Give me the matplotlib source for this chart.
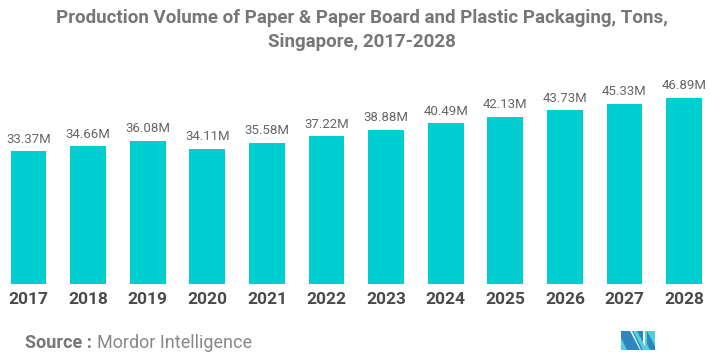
import matplotlib
matplotlib.use("Agg")
import matplotlib.pyplot as plt
from matplotlib.patches import Polygon

years = ["2017", "2018", "2019", "2020", "2021", "2022", "2023", "2024", "2025", "2026", "2027", "2028"]
values = [33.37, 34.66, 36.08, 34.11, 35.58, 37.22, 38.88, 40.49, 42.13, 43.73, 45.33, 46.89]
labels = [f"{v:.2f}M" for v in values]

plt.rcParams['font.family'] = ['Roboto', 'DejaVu Sans']

fig = plt.figure(figsize=(7.24, 3.64), dpi=100)
ax = fig.add_axes([0, 1 - 284/364, 1, 224/364])
x = list(range(len(years)))
bars = ax.bar(x, values, width=0.6, color="#00CED1")
for xi, v, lab in zip(x, values, labels):
    ax.annotate(lab, (xi, v), xytext=(0, 4), textcoords="offset points",
                ha="center", va="bottom", fontsize=9.5, color="#666666")
ax.set_xlim(-0.48, 11.67)
ax.set_ylim(0, 56.4)
ax.set_xticks(x)
ax.set_xticklabels(years, fontsize=12.5, fontweight="bold", color="#4a4a4a")
ax.tick_params(axis="x", length=0, pad=6)
ax.set_yticks([])
for s in ax.spines.values():
    s.set_visible(False)

fig.text(0.5, 1 - 18/364, "Production Volume of Paper & Paper Board and Plastic Packaging, Tons,",
         ha="center", va="center", fontsize=13.5, fontweight="bold", color="#777777")
fig.text(0.5, 1 - 42/364, "Singapore, 2017-2028",
         ha="center", va="center", fontsize=13.5, fontweight="bold", color="#777777")

t = fig.text(25/724, 1 - 343/364, "Source :", ha="left", va="center",
             fontsize=13, fontweight="bold", color="#777777")
fig.canvas.draw()
bb = t.get_window_extent()
fig.text((bb.x1 + 5)/724, 1 - 343/364, "Mordor Intelligence", ha="left", va="center",
         fontsize=13, color="#888888")

# logo
def P(pts, c):
    fig.patches.append(Polygon([(px/724, 1 - py/364) for px, py in pts], closed=True,
                               transform=fig.transFigure, color=c, lw=0))
P([(621, 331), (630, 331), (640, 350), (621, 350)], "#2E86C1")
P([(621, 338), (627, 350), (621, 350)], "#4FD1D9")
P([(632, 331), (643, 331), (643, 350), (641, 350)], "#2E86C1")
P([(637, 331), (647, 350), (643, 350), (633, 331)], "#4FD1D9")
P([(645, 331), (655, 331), (655, 350), (645, 350)], "#4FD1D9")
P([(647, 331), (655, 346), (655, 350), (650, 350), (647, 344)], "#2E86C1")

fig.savefig("out.png", dpi=100)
